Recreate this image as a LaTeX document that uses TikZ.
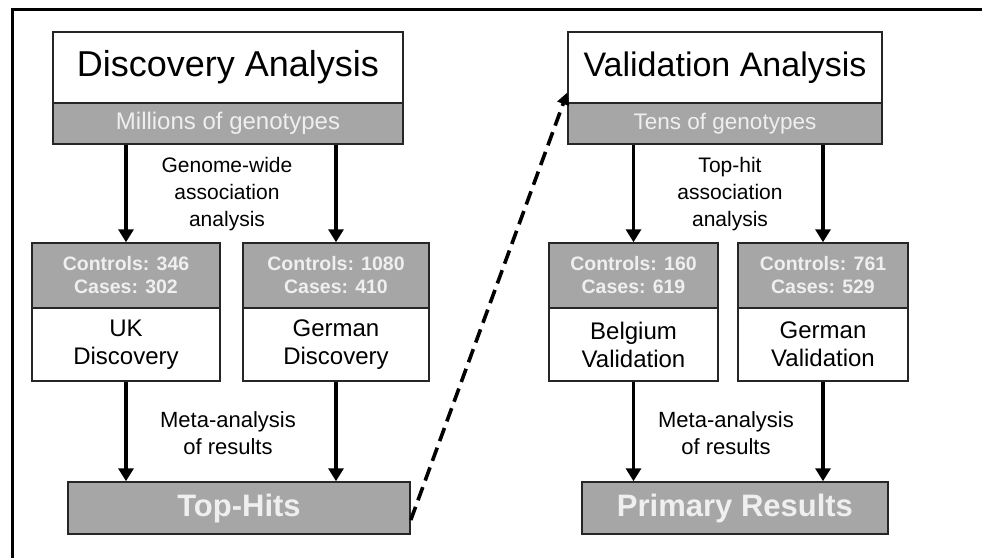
\documentclass[tikz,border=0pt]{standalone}
\usepackage{fontspec}
\setmainfont{Liberation Sans}
\usetikzlibrary{arrows.meta}
\definecolor{boxgray}{HTML}{A6A6A6}
\definecolor{lighttxt}{HTML}{EFEFEF}
\definecolor{edge}{HTML}{262626}
\begin{document}
\begin{tikzpicture}[x=1pt,y=-1pt,
  box/.style={draw=edge,line width=1.5pt,minimum width=#1,inner sep=0pt,align=center},
  wbox/.style={box=#1,fill=white,text=black},
  gbox/.style={box=#1,fill=boxgray,text=lighttxt},
  arr/.style={line width=3.8pt,-{Triangle[length=13pt,width=15pt]}},
  dasharr/.style={line width=3.6pt,dash pattern=on 14pt off 7pt,-{Triangle[length=12pt,width=12pt]}},
  lbl/.style={align=center,font=\fontsize{21}{27}\selectfont,inner sep=0pt},
  cnt/.style={font=\bfseries\fontsize{19.5}{23}\selectfont},
  site/.style={font=\fontsize{24}{28}\selectfont},
  res/.style={font=\bfseries\fontsize{31}{33}\selectfont},
  sub/.style={font=\fontsize{23}{26}\selectfont}
]
\useasboundingbox (0,0) rectangle (982,558);
\draw[line width=3pt] (12,558) coordinate (fl) -- (12,9) coordinate (fc) -- (982,9) coordinate (fr);

% Discovery
\node[wbox=350pt,minimum height=71pt,font=\fontsize{36}{38}\selectfont] (dw) at (228,67.5) {Discovery Analysis};
\node[gbox=350pt,minimum height=41pt,font=\fontsize{24}{26}\selectfont] (dg) at (228,123.5) {Millions of genotypes};
\node[gbox=188pt,minimum height=65pt,cnt] (ukg) at (126,275.5) {Controls: 346\\Cases: 302};
\node[wbox=188pt,minimum height=73pt,site] (ukw) at (126,344.5) {UK\\Discovery};
\node[gbox=186pt,minimum height=65pt,cnt] (gdg) at (336,275.5) {Controls: 1080\\Cases: 410};
\node[wbox=186pt,minimum height=73pt,site] (gdw) at (336,344.5) {German\\Discovery};
\node[gbox=342pt,minimum height=52pt,res] (top) at (239,508) {Top-Hits};

\node[lbl] (gwa) at (227,194) {Genome-wide\\association\\analysis};
\node[lbl,font=\fontsize{22}{27}\selectfont] (meta1) at (228,433) {Meta-analysis\\of results};

\draw[arr] (dg.south -| ukg.north) -- (ukg.north);
\draw[arr] (dg.south -| gdg.north) -- (gdg.north);
\draw[arr] (ukw.south) -- (ukw.south |- top.north);
\draw[arr] (gdw.south) -- (gdw.south |- top.north);

% Validation
\node[wbox=314pt,minimum height=71pt,font=\fontsize{34}{38}\selectfont] (vw) at (725,67.5) {Validation Analysis};
\node[gbox=314pt,minimum height=41pt,font=\fontsize{22.5}{26}\selectfont] (vg) at (725,123.5) {Tens of genotypes};
\node[gbox=169pt,minimum height=65pt,cnt] (bg) at (633.5,275.5) {Controls: 160\\Cases: 619};
\node[wbox=169pt,minimum height=73pt,site] (bw) at (633.5,344.5) {Belgium\\Validation};
\node[gbox=170pt,minimum height=65pt,cnt] (gvg) at (823,275.5) {Controls: 761\\Cases: 529};
\node[wbox=170pt,minimum height=73pt,site] (gvw) at (823,344.5) {German\\Validation};
\node[gbox=306pt,minimum height=52pt,res] (prim) at (735,508) {Primary Results};

\node[lbl] (tha) at (730,194) {Top-hit\\association\\analysis};
\node[lbl,font=\fontsize{22}{27}\selectfont] (meta2) at (726,433) {Meta-analysis\\of results};

\draw[arr] (vg.south -| bg.north) -- (bg.north);
\draw[arr] (vg.south -| gvg.north) -- (gvg.north);
\draw[arr] (bw.south) -- (bw.south |- prim.north);
\draw[arr] (gvw.south) -- (gvw.south |- prim.north);

\draw[dasharr] ([yshift=-12pt]top.east) -- ([yshift=-25pt]vw.west);
\end{tikzpicture}
\end{document}
